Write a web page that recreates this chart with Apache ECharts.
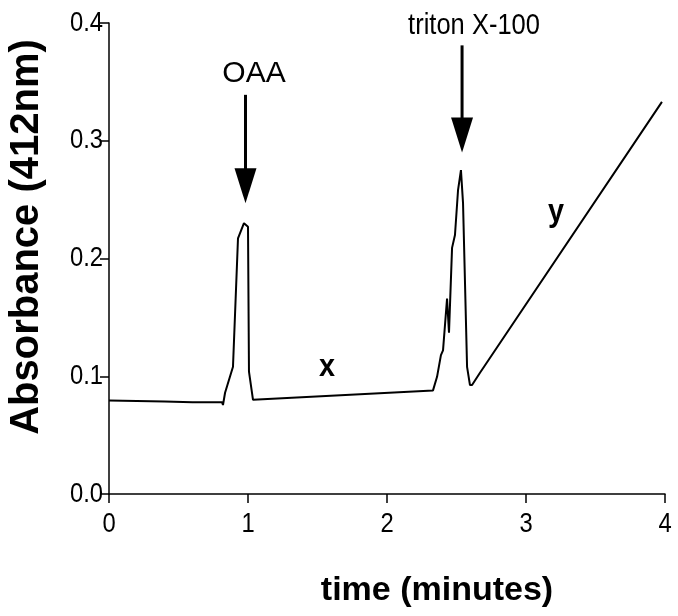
<!DOCTYPE html>
<html>
<head>
<meta charset="utf-8">
<script src="https://cdn.jsdelivr.net/npm/echarts@6/dist/echarts.min.js"></script>
<style>html,body{margin:0;padding:0;background:#fff;}#c{width:678px;height:616px;}</style>
</head>
<body>
<div id="c"></div>
<script>
// time (minutes)
var timeValues = [0, 0.2, 0.4, 0.6, 0.75, 0.813, 0.82, 0.835, 0.845, 0.892, 0.928, 0.971, 1.0, 1.007, 1.036,
  2.331, 2.360, 2.388, 2.403, 2.432, 2.446, 2.468, 2.489, 2.511, 2.532, 2.547, 2.576, 2.597, 2.612, 2.669, 3.978];
// absorbance at 412 nm
var absValues = [0.0795, 0.079, 0.0785, 0.078, 0.078, 0.078, 0.0756, 0.086, 0.087, 0.108, 0.217, 0.23, 0.227, 0.104, 0.080,
  0.088, 0.0995, 0.118, 0.122, 0.166, 0.137, 0.209, 0.22, 0.258, 0.275, 0.247, 0.108, 0.0925, 0.0925, 0.103, 0.333];
var xTicks = [0, 1, 2, 3, 4];
var xTickLabels = ['0', '1', '2', '3', '4'];
var yTicks = [0.0, 0.1, 0.2, 0.3, 0.4];
var yTickLabels = ['0.0', '0.1', '0.2', '0.3', '0.4'];
// annotations (data coordinates)
var arrowLabels = ['OAA', 'triton X-100'];
var arrowX = [0.982, 2.54];
var arrowTop = [0.339, 0.381];
var arrowTip = [0.247, 0.29];
var arrowTextPos = [[1.043, 0.357], [2.626, 0.398]];
var segLabels = ['x', 'y'];
var segLabelPos = [[1.568, 0.108], [3.216, 0.239]];

var chart = echarts.init(document.getElementById('c'), null, {renderer: 'canvas'});
var F = '"Liberation Sans", Arial, sans-serif';
var data = timeValues.map(function (t, i) { return [t, absValues[i]]; });
chart.setOption({
  backgroundColor: '#fff',
  animation: false,
  grid: {left: 109, right: 13, top: 23, bottom: 122},
  xAxis: {
    type: 'value', min: xTicks[0], max: xTicks[xTicks.length - 1], interval: 1,
    axisLine: {onZero: false, lineStyle: {color: '#000', width: 1.5}},
    axisTick: {show: true, length: 9, lineStyle: {color: '#000', width: 1.5}},
    axisLabel: {show: false},
    splitLine: {show: false}
  },
  yAxis: {
    type: 'value', min: yTicks[0], max: yTicks[yTicks.length - 1], interval: 0.1,
    axisLine: {show: true, lineStyle: {color: '#000', width: 1.5}},
    axisTick: {show: true, length: 9, lineStyle: {color: '#000', width: 1.5}},
    axisLabel: {show: false},
    splitLine: {show: false}
  },
  series: [{
    type: 'line', data: data, symbol: 'none', smooth: false,
    lineStyle: {color: '#000', width: 2}
  }]
});

function px(p) { return chart.convertToPixel({gridIndex: 0}, p); }
var g = [];
var NARROW = 0.85;
// tick labels (narrow font emulated by horizontal scaling)
xTicks.forEach(function (v, k) {
  var p = px([v, yTicks[0]]);
  g.push({type: 'text', x: p[0], y: p[1] + 30, scaleX: NARROW,
    style: {text: xTickLabels[k], fill: '#000', font: '28px ' + F, align: 'center', verticalAlign: 'middle'}});
});
yTicks.forEach(function (v, k) {
  var p = px([xTicks[0], v]);
  g.push({type: 'text', x: p[0] - 6, y: p[1], scaleX: NARROW,
    style: {text: yTickLabels[k], fill: '#000', font: '28px ' + F, align: 'right', verticalAlign: 'middle'}});
});
for (var i = 0; i < arrowLabels.length; i++) {
  var pTop = px([arrowX[i], arrowTop[i]]);
  var pTip = px([arrowX[i], arrowTip[i]]);
  var headH = 35, headW = 22;
  g.push({type: 'rect', shape: {x: pTop[0] - 1.5, y: pTop[1], width: 3, height: (pTip[1] - headH + 2) - pTop[1]},
    style: {fill: '#000'}});
  g.push({type: 'polygon', shape: {points: [[pTip[0] - headW / 2, pTip[1] - headH], [pTip[0] + headW / 2, pTip[1] - headH], [pTip[0], pTip[1]]]},
    style: {fill: '#000'}});
  var tp = px(arrowTextPos[i]);
  g.push({type: 'text', x: tp[0], y: tp[1], scaleX: (i === 0 ? 1 : NARROW),
    style: {text: arrowLabels[i], fill: '#000', font: '30px ' + F, align: 'center', verticalAlign: 'middle'}});
}
for (var j = 0; j < segLabels.length; j++) {
  var sp = px(segLabelPos[j]);
  g.push({type: 'text', x: sp[0], y: sp[1], scaleX: 0.9,
    style: {text: segLabels[j], fill: '#000', font: 'bold 32px ' + F, align: 'center', verticalAlign: 'middle'}});
}
g.push({type: 'text', x: 437, y: 591, style: {text: 'time (minutes)', fill: '#000', font: 'bold 34px ' + F, align: 'center', verticalAlign: 'middle'}});
g.push({type: 'text', x: 27, y: 237, rotation: Math.PI / 2, style: {text: 'Absorbance (412nm)', fill: '#000', font: 'bold 40px ' + F, align: 'center', verticalAlign: 'middle'}});
chart.setOption({graphic: g});
</script>
</body>
</html>
